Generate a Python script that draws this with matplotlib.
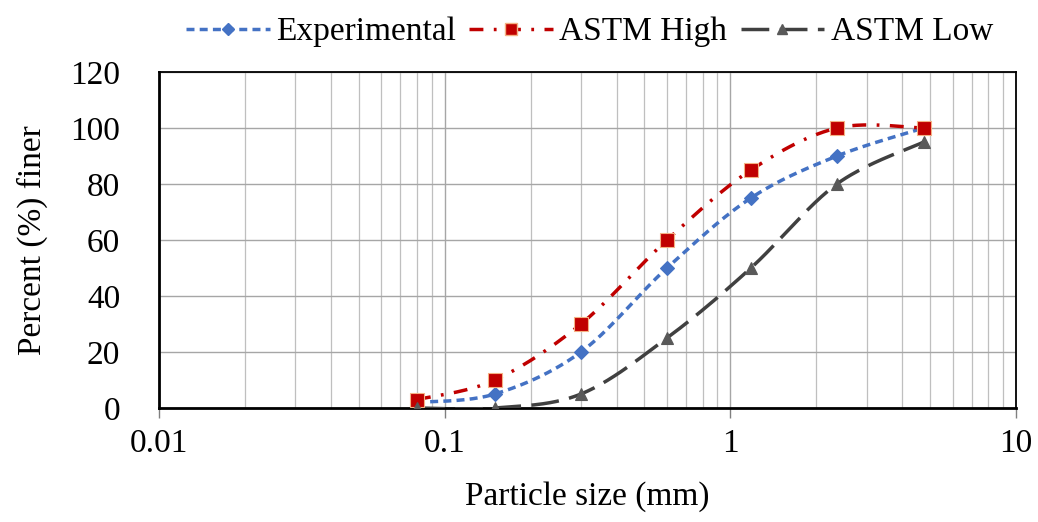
import numpy as np
import matplotlib
matplotlib.use("Agg")
import matplotlib.pyplot as plt

plt.rcParams["font.family"] = ["Liberation Serif", "DejaVu Serif"]

sizes = [0.08, 0.15, 0.3, 0.6, 1.18, 2.36, 4.75]
experimental = [2, 5, 20, 50, 75, 90, 100]
astm_high = [3, 10, 30, 60, 85, 100, 100]
astm_low = [0, 0, 5, 25, 50, 80, 95]


def smooth(x, y, n=40):
    # excel-style smoothed line (catmull-rom in log-x space)
    lx = np.log10(x)
    y = np.asarray(y, float)
    px = np.concatenate([[lx[0]], lx, [lx[-1]]])
    py = np.concatenate([[y[0]], y, [y[-1]]])
    xs, ys = [], []
    t = np.linspace(0, 1, n)
    for i in range(1, len(px) - 2):
        p0 = np.array([px[i], py[i]])
        p3 = np.array([px[i + 1], py[i + 1]])
        c1 = p0 + (np.array([px[i + 1], py[i + 1]]) - np.array([px[i - 1], py[i - 1]])) / 6
        c2 = p3 - (np.array([px[i + 2], py[i + 2]]) - np.array([px[i], py[i]])) / 6
        b = ((1 - t) ** 3)[:, None] * p0 + (3 * (1 - t) ** 2 * t)[:, None] * c1 \
            + (3 * (1 - t) * t ** 2)[:, None] * c2 + (t ** 3)[:, None] * p3
        xs.extend(b[:, 0])
        ys.extend(b[:, 1])
    return 10 ** np.array(xs), np.array(ys)


fig = plt.figure(figsize=(10.38, 5.22), dpi=100)
ax = fig.add_axes([0.1532, 0.2184, 0.8256, 0.6436])

series = [
    ("Experimental", experimental, "#4472C4", (0, (2.3, 1.5)), "D", 7.5),
    ("ASTM High", astm_high, "#C00000", (0, (4, 3, 0.8, 3)), "s", 10),
    ("ASTM Low", astm_low, "#404040", (0, (8, 3)), "^", 9),
]

handles = []
for name, vals, col, ls, mk, ms in series:
    sx, sy = smooth(sizes, vals)
    ax.plot(sx, sy, color=col, linestyle=ls, lw=2.5, zorder=3)
    mfc = col if mk != "^" else "#595959"
    mec = "#F4B183" if mk == "s" else mfc
    ax.plot(sizes, vals, linestyle="none", marker=mk, ms=ms, mfc=mfc, mec=mec, mew=0.8, zorder=4)
    h, = ax.plot([], [], color=col, linestyle=ls, lw=2.5, marker=mk, ms=ms * 0.8, mfc=mfc, mec=mec)
    handles.append(h)

ax.set_xscale("log")
ax.set_xlim(0.01, 10)
ax.set_ylim(0, 120)
ax.set_yticks(range(0, 121, 20))
ax.set_xticks([0.01, 0.1, 1, 10])
ax.set_xticklabels(["0.01", "0.1", "1", "10"])
ax.grid(True, which="major", color="#A6A6A6", lw=1.0)
ax.grid(True, which="minor", axis="x", color="#BFBFBF", lw=0.9)
ax.set_axisbelow(True)
ax.tick_params(axis="x", which="major", direction="out", length=7, width=1, color="#808080",
               labelsize=24, pad=8)
ax.tick_params(axis="x", which="minor", length=0)
ax.tick_params(axis="y", length=0, labelsize=24, pad=28)
for s in ax.spines.values():
    s.set_color("black")
    s.set_linewidth(1.3)
ax.spines["left"].set_linewidth(2)
ax.spines["bottom"].set_linewidth(2)

ax.set_xlabel("Particle size (mm)", fontsize=24, labelpad=16)
ax.set_ylabel("Percent (%) finer", fontsize=24, labelpad=16)

fig.legend(handles, [s[0] for s in series], loc="upper center", bbox_to_anchor=(0.568, 1.025),
           ncol=3, frameon=False, fontsize=24, handlelength=2.5, handletextpad=0.2,
           columnspacing=0.4)

fig.savefig("out.png", dpi=100)
